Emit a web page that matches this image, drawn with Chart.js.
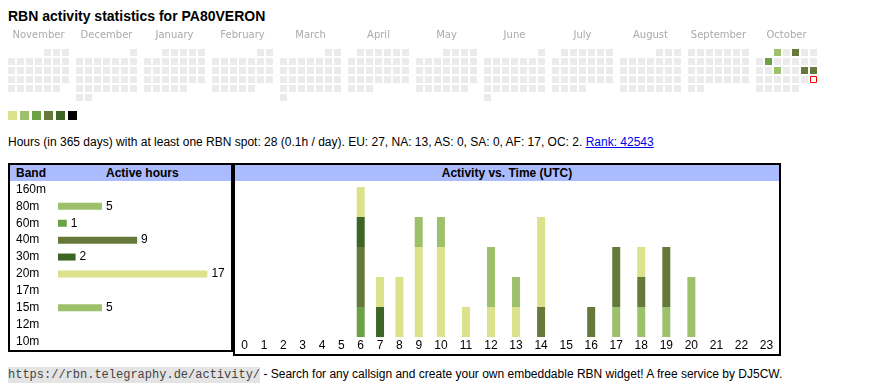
<!DOCTYPE html>
<html lang="en">
<head>
    <meta charset="UTF-8">
    <title>RBN activity statistics for PA80VERON</title>
    <script src="https://cdn.jsdelivr.net/npm/chart.js@4.4.1/dist/chart.umd.min.js"></script>
    <style>
        body { margin: 0; width: 870px; height: 390px; position: relative; background: #fff;
               font-family: "Liberation Sans", Arial, sans-serif; font-size: 12px; color: #000; }
        .abs { position: absolute; }
        .box { position: absolute; border: 2px solid #000; background: #fff; }
        .head { position: absolute; left: 0; top: 0; right: 0; height: 16px; line-height: 16px;
                background: #aabbff; font-weight: bold; font-size: 12px; }
        code { font-family: "Liberation Mono", monospace; font-size: 12px; background: #e4e4e4; color: #444; padding: 1px 0; }
        a { color: #0000ee; }
        canvas { display: block; }
    </style>
</head>
<body>
<div class="abs" style="left:8px; top:8px; font-weight:bold; font-size:14px; line-height:16px;">RBN activity statistics for PA80VERON</div>

<div class="abs" style="left:0; top:25px; width:870px; height:100px;">
    <canvas id="calendar" width="870" height="100"></canvas>
</div>

<div class="abs" style="left:8px; top:135px; line-height:14px; white-space:nowrap;">
    Hours (in 365 days) with at least one RBN spot: 28 (0.1h / day). EU: 27, NA: 13, AS: 0, SA: 0, AF: 17, OC: 2. <a href="#">Rank: 42543</a>
</div>

<div class="box" style="left:8px; top:163px; width:221px; height:185px;">
    <div class="head"><span class="abs" style="left:6px;">Band</span><span class="abs" style="left:96px;">Active hours</span></div>
    <div class="abs" style="left:0; top:16px; width:221px; height:169px;">
        <canvas id="bands" width="221" height="169"></canvas>
    </div>
</div>

<div class="box" style="left:233px; top:163px; width:544px; height:189px;">
    <div class="head" style="text-align:center;">Activity vs. Time (UTC)</div>
    <div class="abs" style="left:0; top:16px; width:544px; height:173px;">
        <canvas id="hours" width="544" height="173"></canvas>
    </div>
</div>

<div class="abs" style="left:8px; top:366px; line-height:16px; white-space:nowrap;">
    <code>https://rbn.telegraphy.de/activity/</code> - Search for any callsign and create your own embeddable RBN widget! A free service by DJ5CW.
</div>

<script>
    // calendar: Nov 2024 .. Oct 2025, weeks start on Monday
    var monthNames = ["November", "December", "January", "February", "March", "April", "May", "June", "July", "August", "September", "October"];
    var firstYear = 2024, firstMonth = 10;
    var activeDays = ["2025-10-01", "2025-10-03", "2025-10-07", "2025-10-15", "2025-10-18", "2025-10-19"];
    var activeLevels = [2, 4, 3, 2, 4, 4];
    var today = "2025-10-26";
    var levelColors = ["#dbe28b", "#9dc06a", "#6aa245", "#65793a", "#3c6526", "#000000"];

    // band table
    var bands = ["160m", "80m", "60m", "40m", "30m", "20m", "17m", "15m", "12m", "10m"];
    var bandHours = [0, 5, 1, 9, 2, 17, 0, 5, 0, 0];
    var bandColors = ["#000000", "#9dc06a", "#6aa245", "#65793a", "#3c6526", "#dbe28b", "#9dc06a", "#9dc06a", "#6aa245", "#65793a"];

    // activity per UTC hour, one array per band
    var hours = ["0", "1", "2", "3", "4", "5", "6", "7", "8", "9", "10", "11", "12", "13", "14", "15", "16", "17", "18", "19", "20", "21", "22", "23"];
    var act160 = [0, 0, 0, 0, 0, 0, 0, 0, 0, 0, 0, 0, 0, 0, 0, 0, 0, 0, 0, 0, 0, 0, 0, 0];
    var act80  = [0, 0, 0, 0, 0, 0, 0, 0, 0, 0, 0, 0, 0, 0, 0, 0, 0, 1, 1, 1, 2, 0, 0, 0];
    var act60  = [0, 0, 0, 0, 0, 0, 1, 0, 0, 0, 0, 0, 0, 0, 0, 0, 0, 0, 0, 0, 0, 0, 0, 0];
    var act40  = [0, 0, 0, 0, 0, 0, 2, 0, 0, 0, 0, 0, 0, 0, 1, 0, 1, 2, 1, 2, 0, 0, 0, 0];
    var act30  = [0, 0, 0, 0, 0, 0, 1, 1, 0, 0, 0, 0, 0, 0, 0, 0, 0, 0, 0, 0, 0, 0, 0, 0];
    var act20  = [0, 0, 0, 0, 0, 0, 1, 1, 2, 3, 3, 1, 1, 1, 3, 0, 0, 0, 1, 0, 0, 0, 0, 0];
    var act17  = [0, 0, 0, 0, 0, 0, 0, 0, 0, 0, 0, 0, 0, 0, 0, 0, 0, 0, 0, 0, 0, 0, 0, 0];
    var act15  = [0, 0, 0, 0, 0, 0, 0, 0, 0, 1, 1, 0, 2, 1, 0, 0, 0, 0, 0, 0, 0, 0, 0, 0];
    var act12  = [0, 0, 0, 0, 0, 0, 0, 0, 0, 0, 0, 0, 0, 0, 0, 0, 0, 0, 0, 0, 0, 0, 0, 0];
    var act10  = [0, 0, 0, 0, 0, 0, 0, 0, 0, 0, 0, 0, 0, 0, 0, 0, 0, 0, 0, 0, 0, 0, 0, 0];
    var bandActivity = [act160, act80, act60, act40, act30, act20, act17, act15, act12, act10];

    Chart.defaults.font.family = "'Liberation Sans', Arial, sans-serif";
    Chart.defaults.font.size = 12;
    Chart.defaults.color = "#000";

    // ---- calendar heatmap ----
    var MONTH_STEP = 68 / 9;   // month block spacing, in day cells
    var calPoints = [];
    for (var m = 0; m < 12; m++) {
        var yr = firstYear + Math.floor((firstMonth + m) / 12);
        var mo = (firstMonth + m) % 12;
        var first = (new Date(Date.UTC(yr, mo, 1)).getUTCDay() + 6) % 7;
        var nDays = new Date(Date.UTC(yr, mo + 1, 0)).getUTCDate();
        for (var d = 1; d <= nDays; d++) {
            var pos = first + d - 1;
            var key = yr + "-" + String(mo + 1).padStart(2, "0") + "-" + String(d).padStart(2, "0");
            var ai = activeDays.indexOf(key);
            calPoints.push({
                x: m * MONTH_STEP + pos % 7,
                y: Math.floor(pos / 7),
                level: ai >= 0 ? activeLevels[ai] : 0,
                today: key === today
            });
        }
    }
    // colour key below the calendar
    var legendPoints = levelColors.map(function (c, i) {
        return {x: (1 + 12 * i) / 9, y: 7};
    });

    new Chart(document.getElementById("calendar"), {
        type: "scatter",
        data: {
            datasets: [{
                data: calPoints,
                pointStyle: "rect",
                pointRadius: function (ctx) { return ctx.raw && ctx.raw.today ? 6 / 2 / Math.SQRT1_2 : 7 / 2 / Math.SQRT1_2; },
                pointBackgroundColor: function (ctx) {
                    var p = ctx.raw;
                    if (!p) return "#ebebeb";
                    if (p.today) return "#ffffff";
                    return p.level ? levelColors[p.level - 1] : "#ebebeb";
                },
                pointBorderColor: "#ff0000",
                pointBorderWidth: function (ctx) { return ctx.raw && ctx.raw.today ? 1 : 0; }
            }, {
                data: legendPoints,
                pointStyle: "rect",
                pointRadius: 9 / 2 / Math.SQRT1_2,
                pointBorderWidth: 0,
                pointBackgroundColor: levelColors
            }]
        },
        options: {
            responsive: false,
            devicePixelRatio: 1,
            animation: false,
            events: [],
            layout: {autoPadding: false, padding: {left: 7, right: 52, top: 0, bottom: 0}},
            plugins: {legend: {display: false}, tooltip: {enabled: false}},
            scales: {
                x: {
                    type: "linear",
                    position: "top",
                    min: -0.5,
                    max: -0.5 + 811 / 9,
                    grid: {display: false, drawTicks: false},
                    border: {display: false},
                    ticks: {
                        color: "#aaa",
                        font: {family: "'DejaVu Sans', sans-serif", size: 10},
                        padding: 7,
                        autoSkip: false,
                        maxRotation: 0,
                        callback: function (v, i) { return monthNames[i]; }
                    },
                    afterBuildTicks: function (s) {
                        s.ticks = monthNames.map(function (n, i) { return {value: i * MONTH_STEP + 3}; });
                    },
                    afterFit: function (s) { s.height = 23; }
                },
                y: {type: "linear", display: false, reverse: true, min: -0.5, max: -0.5 + 77 / 9}
            }
        }
    });

    // ---- band table ----
    var valueLabels = {
        id: "valueLabels",
        afterDatasetsDraw: function (chart) {
            var ctx = chart.ctx;
            var meta = chart.getDatasetMeta(0);
            ctx.save();
            ctx.font = "12px 'Liberation Sans', Arial, sans-serif";
            ctx.fillStyle = "#000";
            ctx.textBaseline = "middle";
            meta.data.forEach(function (bar, i) {
                if (bandHours[i] > 0) ctx.fillText(String(bandHours[i]), bar.x + 4, bar.y);
            });
            ctx.restore();
        }
    };

    new Chart(document.getElementById("bands"), {
        type: "bar",
        data: {
            labels: bands,
            datasets: [{data: bandHours, backgroundColor: bandColors, barThickness: 7, inflateAmount: 0}]
        },
        options: {
            indexAxis: "y",
            responsive: false,
            devicePixelRatio: 1,
            animation: false,
            events: [],
            layout: {autoPadding: false, padding: {left: 6, right: 6, top: 0, bottom: 0}},
            plugins: {legend: {display: false}, tooltip: {enabled: false}},
            scales: {
                x: {display: false, min: 0, max: 19},
                y: {
                    grid: {display: false, drawTicks: false},
                    border: {display: false},
                    ticks: {crossAlign: "far", padding: 0, color: "#000", autoSkip: false},
                    afterFit: function (s) {
                        s.width = 42;
                        s.paddingTop = 0;
                        s.paddingBottom = 0;
                    }
                }
            }
        },
        plugins: [valueLabels]
    });

    // ---- activity vs time ----
    // column widths follow the label length, like the html table they come from
    var hourX = [];
    var acc = 0;
    hours.forEach(function (h) {
        var w = h.length + 2.39;
        hourX.push(acc + w / 2);
        acc += w;
    });

    var hourSets = bands.map(function (b, i) {
        return {
            label: b,
            data: bandActivity[i].map(function (v, j) { return {x: hourX[j], y: v}; }),
            backgroundColor: bandColors[i],
            barThickness: 8,
            inflateAmount: 0
        };
    });

    new Chart(document.getElementById("hours"), {
        type: "bar",
        data: {datasets: hourSets},
        options: {
            responsive: false,
            devicePixelRatio: 1,
            animation: false,
            events: [],
            layout: {autoPadding: false, padding: 0},
            plugins: {legend: {display: false}, tooltip: {enabled: false}},
            scales: {
                x: {
                    type: "linear",
                    stacked: true,
                    offset: false,
                    min: 0,
                    max: acc,
                    grid: {display: false, drawTicks: false},
                    border: {display: false},
                    ticks: {
                        autoSkip: false,
                        maxRotation: 0,
                        padding: 1,
                        color: "#000",
                        callback: function (v, i) { return hours[i]; }
                    },
                    afterBuildTicks: function (s) {
                        s.ticks = hourX.map(function (v) { return {value: v}; });
                    },
                    afterFit: function (s) { s.height = 17; }
                },
                y: {display: false, stacked: true, min: 0, max: 5.2}
            }
        }
    });
</script>
</body>
</html>
